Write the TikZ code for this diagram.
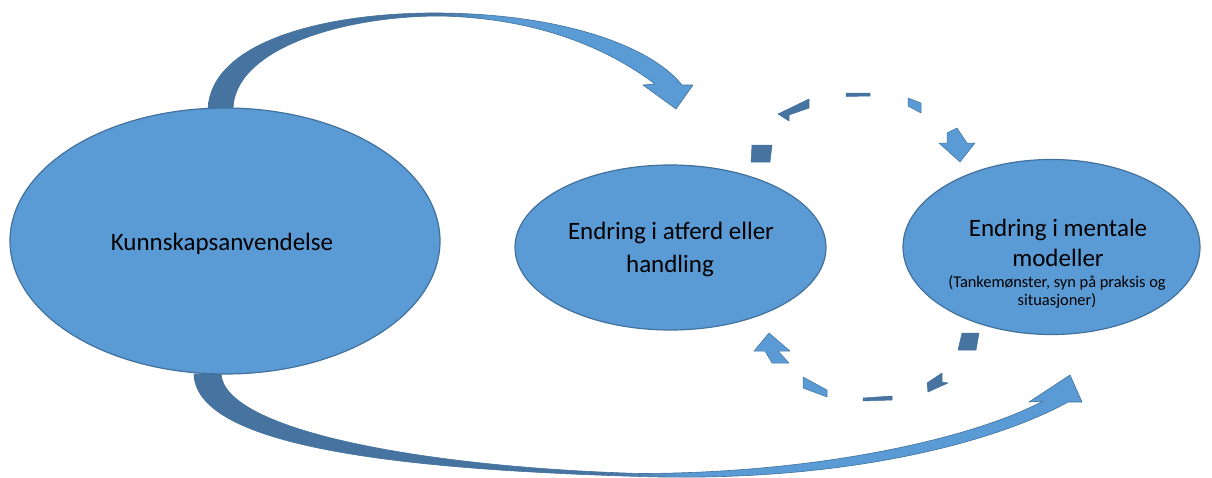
\documentclass[tikz,border=0pt]{standalone}
\usepackage{fontspec}
\setmainfont{Carlito}
\usetikzlibrary{shapes.geometric}
\definecolor{boxfill}{HTML}{5B9BD5}
\definecolor{boxline}{HTML}{41719C}
\definecolor{arrowdark}{HTML}{4673A0}
\pgfdeclarehorizontalshading{topshade}{100bp}{color(0bp)=(arrowdark); color(49bp)=(arrowdark); color(54bp)=(boxfill); color(100bp)=(boxfill)}
\pgfdeclarehorizontalshading{botshade}{100bp}{color(0bp)=(arrowdark); color(48bp)=(arrowdark); color(53bp)=(boxfill); color(100bp)=(boxfill)}
\begin{document}
\begin{tikzpicture}[x=1pt,y=-1pt,
  oval/.style={ellipse, fill=boxfill, draw=boxline, line width=1.2pt, inner sep=0pt},
  bigarrow/.style={draw=boxline, line width=0.6pt, line join=round},
  ringdark/.style={fill=arrowdark, draw=boxline, line width=0.5pt, line join=round},
  ringlight/.style={fill=boxfill, draw=boxline, line width=0.5pt, line join=round},
  bigtext/.style={font=\fontsize{25}{30}\selectfont, anchor=base, inner sep=0pt},
  smalltext/.style={font=\fontsize{16.4}{19.7}\selectfont, anchor=base, inner sep=0pt}]

\useasboundingbox (0,0) rectangle (1212,477);

% big curved arrow on top
\shadedraw[shading=topshade, bigarrow] (208,110) .. controls (210,40) and (330,12) .. (440,13)
  .. controls (560,14) and (650,45) .. (682,85) -- (693,85) -- (676,109) -- (643,85) -- (655,84)
  .. controls (610,50) and (540,18) .. (440,16)
  .. controls (340,16) and (233,50) .. (233,110) -- cycle;

% big curved arrow at the bottom
\shadedraw[shading=botshade, bigarrow] (194,374) .. controls (196,450) and (420,470) .. (640,476.5)
  .. controls (850,483) and (1000,440) .. (1068,402) -- (1082,402) -- (1070,375) -- (1029,402) -- (1043,401)
  .. controls (980,435) and (830,473) .. (640,473.5)
  .. controls (420,467) and (225,430) .. (221,374) -- cycle;

% dashed ring: upper arrow
\draw[ringdark] (752,145) -- (772,145) -- (770,162) -- (751,162) -- cycle;
\draw[ringdark] (778,114) -- (809,99) -- (809,108) -- (789,115) -- (789,121) -- cycle;
\draw[ringdark] (846,93) -- (870,93) -- (870,96) -- (846,96.5) -- cycle;
\draw[ringlight] (908,98) -- (921,103) -- (921,113) -- (908,106) -- cycle;
\draw[ringlight] (947,133) -- (957,128) -- (967,143) -- (975,143) -- (960,162) -- (939,143) -- (947,143) -- cycle;

% dashed ring: lower arrow
\draw[ringdark] (962,333) -- (979,333) -- (976,350) -- (958,350) -- cycle;
\draw[ringdark] (927,383) -- (942,373) -- (942,382) -- (948,383) -- (928,392) -- cycle;
\draw[ringdark] (863,398) -- (892,396) -- (892,400) -- (863,401) -- cycle;
\draw[ringlight] (803,377) -- (827,390) -- (827,397) -- (803,388) -- cycle;
\draw[ringlight] (769,333) -- (790,351) -- (778,351) -- (789,363) -- (772,363) -- (765,351) -- (754,351) -- cycle;

% ellipses
\node[oval, minimum width=430pt, minimum height=266pt] (kunn) at (225,241) {};
\node[oval, minimum width=311pt, minimum height=165pt] (atferd) at (670.5,247.5) {};
\node[oval, minimum width=297pt, minimum height=175pt] (mental) at (1051.5,247) {};

% texts
\node[bigtext] (t1) at (222,250) {Kunnskapsanvendelse};
\node[bigtext] (t2) at (671,239.5) {Endring i atferd eller};
\node[bigtext] (t3) at (670,272) {handling};
\node[bigtext] (t4) at (1058,236.5) {Endring i mentale};
\node[bigtext] (t5) at (1058,266) {modeller};
\node[smalltext] (t6) at (1057,287) {(Tankemønster, syn på praksis og};
\node[smalltext] (t7) at (1057,305) {situasjoner)};
\end{tikzpicture}
\end{document}
